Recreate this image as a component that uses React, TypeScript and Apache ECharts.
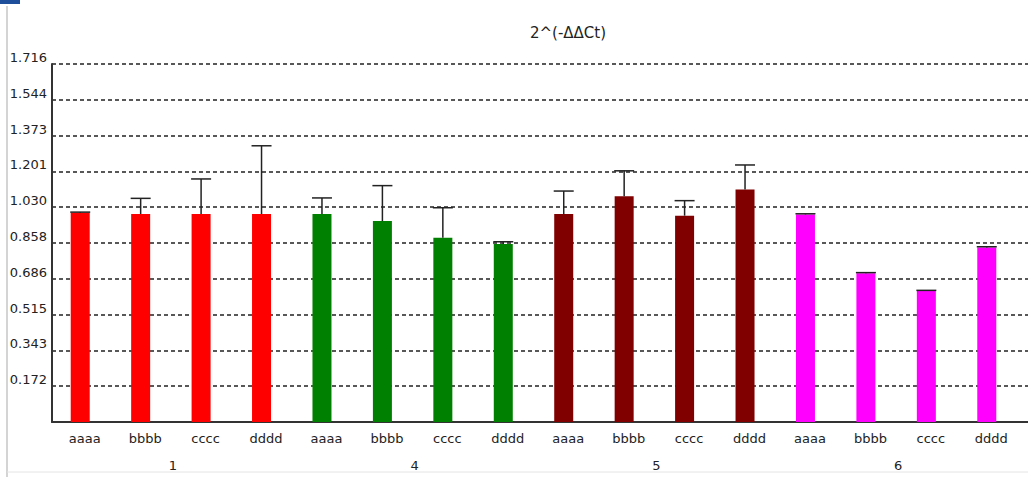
import React, { useEffect, useRef } from "react";
import * as echarts from "echarts";

const barLabels = [
  "aaaa", "bbbb", "cccc", "dddd",
  "aaaa", "bbbb", "cccc", "dddd",
  "aaaa", "bbbb", "cccc", "dddd",
  "aaaa", "bbbb", "cccc", "dddd",
];
const groupLabels = ["1", "4", "5", "6"];
const groupColors = ["#ff0000", "#008000", "#800000", "#ff00ff"];

const group1Values = [1.003, 0.997, 0.997, 0.997];
const group1Errors = [0.003, 0.075, 0.168, 0.327];
const group4Values = [0.997, 0.963, 0.883, 0.853];
const group4Errors = [0.077, 0.17, 0.144, 0.011];
const group5Values = [0.997, 1.082, 0.989, 1.115];
const group5Errors = [0.11, 0.122, 0.072, 0.117];
const group6Values = [0.995, 0.713, 0.628, 0.837];
const group6Errors = [0.003, 0.003, 0.003, 0.003];

const yMax = 1.716;
const yStep = 0.1716;
const titleText = "2^(-ΔΔCt)";

const FONT = "DejaVu Sans";

export default function App() {
  const ref = useRef<HTMLDivElement>(null);

  useEffect(() => {
    if (!ref.current) return;
    const chart = echarts.init(ref.current, undefined, { renderer: "svg" });

    const groups = [
      [group1Values, group1Errors],
      [group4Values, group4Errors],
      [group5Values, group5Errors],
      [group6Values, group6Errors],
    ];
    const barData: any[] = [];
    const errData: any[] = [];
    groups.forEach(([vals, errs], g) => {
      vals.forEach((v, j) => {
        const idx = g * 4 + j;
        barData.push({ value: v, itemStyle: { color: groupColors[g] } });
        errData.push([idx, v, errs[j]]);
      });
    });

    const labelStyle = { fontFamily: FONT, fontSize: 13, color: "#222" };

    chart.setOption({
      animation: false,
      backgroundColor: "#ffffff",
      title: {
        text: titleText,
        left: 563,
        top: 20,
        textAlign: "center",
        textStyle: { fontFamily: FONT, fontSize: 15, fontWeight: "normal", color: "#222" },
      },
      grid: [
        { left: 50, right: 11, top: 64, bottom: 55 },
        { left: 52, right: 0, top: 64, bottom: 55 },
      ],
      xAxis: [
        {
          gridIndex: 0,
          type: "category",
          data: barLabels,
          axisLine: { show: false },
          axisTick: { show: false },
          axisLabel: { ...labelStyle, margin: 10, padding: [0, 0, 0, 9], interval: 0 },
        },
        {
          gridIndex: 0,
          type: "category",
          data: groupLabels,
          position: "bottom",
          axisLine: { show: false },
          axisTick: { show: false },
          axisLabel: { ...labelStyle, margin: 37, padding: [0, 0, 0, 4], interval: 0 },
        },
        {
          gridIndex: 1,
          type: "value",
          min: 0,
          max: 1,
          position: "bottom",
          axisLine: { show: true, lineStyle: { color: "#333", width: 2 } },
          axisTick: { show: false },
          axisLabel: { show: false },
          splitLine: { show: false },
        },
      ],
      yAxis: [
        {
          gridIndex: 0,
          type: "value",
          min: 0,
          max: yMax,
          interval: yStep,
          show: false,
          splitLine: { show: false },
        },
        {
          gridIndex: 1,
          type: "value",
          min: 0,
          max: yMax,
          interval: yStep,
          axisLine: { show: true, lineStyle: { color: "#333", width: 2 } },
          axisTick: { show: false },
          splitLine: {
            show: true,
            lineStyle: { type: [4, 3], color: "#222", width: 1.5 },
          },
          axisLabel: {
            ...labelStyle,
            margin: 5,
            verticalAlign: "bottom",
            showMinLabel: false,
            formatter: (v: number) => (v === 0 ? "" : v.toFixed(3)),
          },
        },
      ],
      series: [
        {
          type: "bar",
          xAxisIndex: 0,
          yAxisIndex: 0,
          data: barData,
          barWidth: 19,
          z: 3,
        },
        {
          type: "custom",
          xAxisIndex: 0,
          yAxisIndex: 0,
          data: errData,
          encode: { x: 0, y: 1 },
          z: 4,
          renderItem: (params: any, api: any) => {
            const x = api.value(0);
            const v = api.value(1);
            const e = api.value(2);
            const base = api.coord([x, v]);
            const top = api.coord([x, v + e]);
            const hw = 10;
            return {
              type: "group",
              children: [
                {
                  type: "line",
                  shape: { x1: base[0], y1: base[1], x2: top[0], y2: top[1] },
                  style: { stroke: "#222", lineWidth: 1.5 },
                },
                {
                  type: "line",
                  shape: { x1: top[0] - hw, y1: top[1], x2: top[0] + hw, y2: top[1] },
                  style: { stroke: "#222", lineWidth: 1.5 },
                },
              ],
            };
          },
        },
      ],
      graphic: [
        { type: "rect", shape: { x: 0, y: 0, width: 20, height: 4 }, style: { fill: "#1f4e9a" } },
        { type: "line", shape: { x1: 7, y1: 6, x2: 7, y2: 477 }, style: { stroke: "#d4d4d4", lineWidth: 2 } },
        { type: "line", shape: { x1: 7, y1: 472, x2: 1028, y2: 472 }, style: { stroke: "#e4e4e4", lineWidth: 1 } },
      ],
    });

    return () => chart.dispose();
  }, []);

  return (
    <div
      ref={ref}
      style={{ position: "fixed", left: 0, top: 0, width: 1028, height: 477, background: "#fff" }}
    />
  );
}
